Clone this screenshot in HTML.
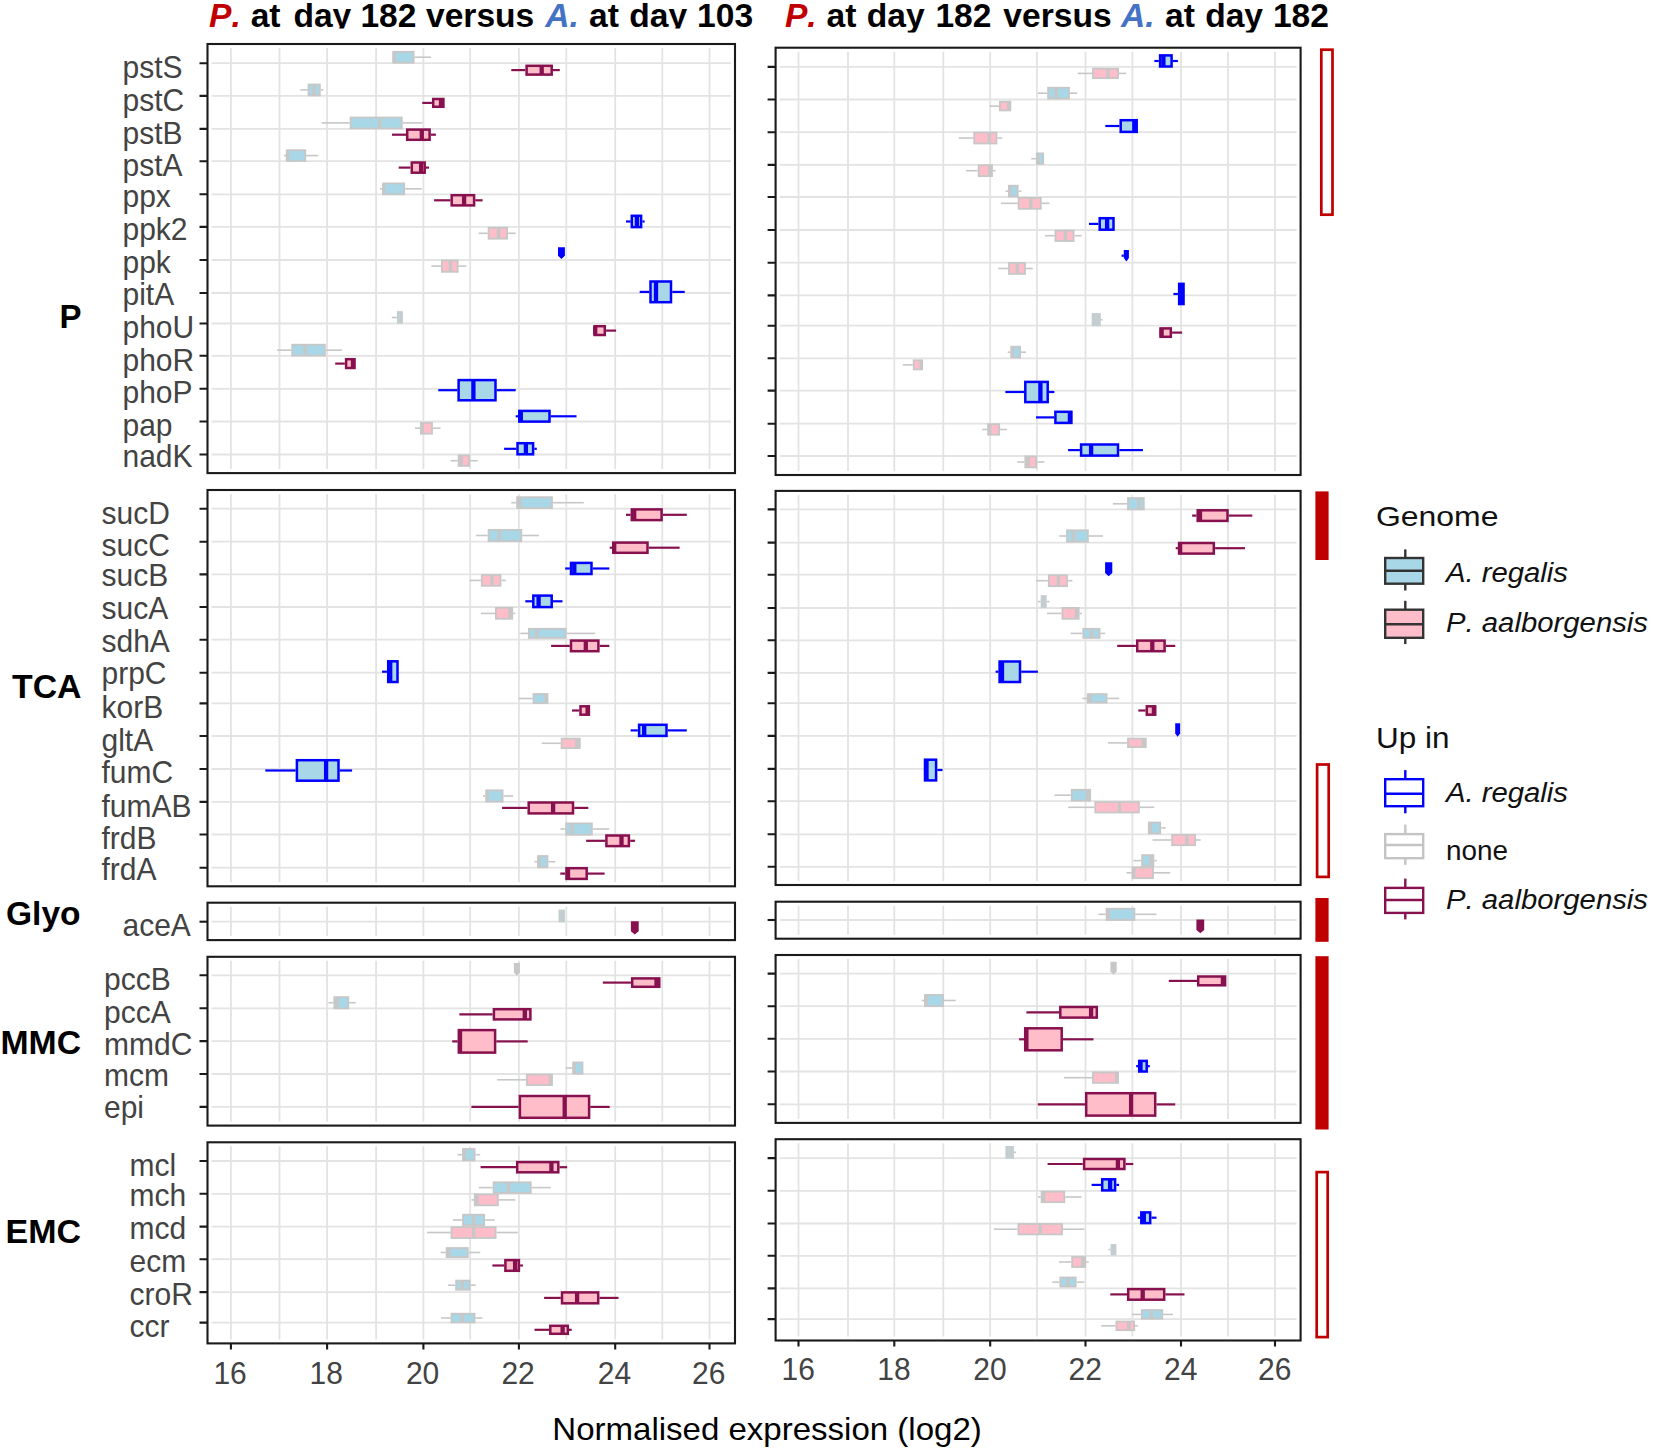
<!DOCTYPE html>
<html lang="en"><head><meta charset="utf-8"><title>Normalised expression boxplots</title><style>html,body{margin:0;padding:0;background:#fff}svg{display:block}</style></head><body>
<svg width="1653" height="1453" viewBox="0 0 1653 1453" font-family="'Liberation Sans', sans-serif" style="font-kerning:none">
<rect width="1653" height="1453" fill="#fff"/>
<defs><clipPath id="cl"><rect x="0" y="0" width="768" height="28.6"/></clipPath><clipPath id="cr"><rect x="768" y="0" width="885" height="32.4"/></clipPath></defs>
<g fill="none" stroke="#e3e3e3" stroke-width="1.8">
<path d="M230.9 48V469.1M279.5 48V469.1M327.1 48V469.1M376.1 48V469.1M423.4 48V469.1M470.2 48V469.1M518.9 48V469.1M566.3 48V469.1M615.2 48V469.1M662.3 48V469.1M709.5 48V469.1M211.5 63.2H731M211.5 95.9H731M211.5 128.9H731M211.5 161.2H731M211.5 194.3H731M211.5 226.9H731M211.5 260H731M211.5 293H731M211.5 323.5H731M211.5 355.8H731M211.5 388.8H731M211.5 421.5H731M211.5 454.5H731"/>
<path d="M230.9 494V882.3M279.5 494V882.3M327.1 494V882.3M376.1 494V882.3M423.4 494V882.3M470.2 494V882.3M518.9 494V882.3M566.3 494V882.3M615.2 494V882.3M662.3 494V882.3M709.5 494V882.3M211.5 508.7H731M211.5 541.7H731M211.5 574.4H731M211.5 607H731M211.5 639.7H731M211.5 672.7H731M211.5 703.4H731M211.5 736H731M211.5 769H731M211.5 801.9H731M211.5 834.5H731M211.5 867.7H731"/>
<path d="M230.9 906.7V936.1M279.5 906.7V936.1M327.1 906.7V936.1M376.1 906.7V936.1M423.4 906.7V936.1M470.2 906.7V936.1M518.9 906.7V936.1M566.3 906.7V936.1M615.2 906.7V936.1M662.3 906.7V936.1M709.5 906.7V936.1M211.5 921.7H731"/>
<path d="M230.9 960.8V1121.6M279.5 960.8V1121.6M327.1 960.8V1121.6M376.1 960.8V1121.6M423.4 960.8V1121.6M470.2 960.8V1121.6M518.9 960.8V1121.6M566.3 960.8V1121.6M615.2 960.8V1121.6M662.3 960.8V1121.6M709.5 960.8V1121.6M211.5 975.3H731M211.5 1008.3H731M211.5 1041.1H731M211.5 1074H731M211.5 1106.9H731"/>
<path d="M230.9 1146.3V1339.4M279.5 1146.3V1339.4M327.1 1146.3V1339.4M376.1 1146.3V1339.4M423.4 1146.3V1339.4M470.2 1146.3V1339.4M518.9 1146.3V1339.4M566.3 1146.3V1339.4M615.2 1146.3V1339.4M662.3 1146.3V1339.4M709.5 1146.3V1339.4M211.5 1161H731M211.5 1193.8H731M211.5 1226.6H731M211.5 1259.2H731M211.5 1292.1H731M211.5 1322.6H731"/>
</g>
<g fill="none" stroke="#e3e3e3" stroke-width="1.8">
<path d="M798.5 51.7V471M848 51.7V471M894.3 51.7V471M943.3 51.7V471M990.2 51.7V471M1036.9 51.7V471M1085.5 51.7V471M1132.4 51.7V471M1181 51.7V471M1228 51.7V471M1275 51.7V471M779.6 66.9H1296.6M779.6 99.5H1296.6M779.6 132.2H1296.6M779.6 164.9H1296.6M779.6 197H1296.6M779.6 230H1296.6M779.6 262.7H1296.6M779.6 295.4H1296.6M779.6 325.7H1296.6M779.6 358.3H1296.6M779.6 390.6H1296.6M779.6 423.7H1296.6M779.6 456H1296.6"/>
<path d="M798.5 494.9V881M848 494.9V881M894.3 494.9V881M943.3 494.9V881M990.2 494.9V881M1036.9 494.9V881M1085.5 494.9V881M1132.4 494.9V881M1181 494.9V881M1228 494.9V881M1275 494.9V881M779.6 509.4H1296.6M779.6 542.6H1296.6M779.6 574.7H1296.6M779.6 608H1296.6M779.6 640.3H1296.6M779.6 672.9H1296.6M779.6 703.2H1296.6M779.6 735.9H1296.6M779.6 768.9H1296.6M779.6 801.2H1296.6M779.6 834.3H1296.6M779.6 866.8H1296.6"/>
<path d="M798.5 905.7V934.7M848 905.7V934.7M894.3 905.7V934.7M943.3 905.7V934.7M990.2 905.7V934.7M1036.9 905.7V934.7M1085.5 905.7V934.7M1132.4 905.7V934.7M1181 905.7V934.7M1228 905.7V934.7M1275 905.7V934.7M779.6 920H1296.6"/>
<path d="M798.5 959V1118.9M848 959V1118.9M894.3 959V1118.9M943.3 959V1118.9M990.2 959V1118.9M1036.9 959V1118.9M1085.5 959V1118.9M1132.4 959V1118.9M1181 959V1118.9M1228 959V1118.9M1275 959V1118.9M779.6 973.6H1296.6M779.6 1006.2H1296.6M779.6 1038.8H1296.6M779.6 1071.5H1296.6M779.6 1104.3H1296.6"/>
<path d="M798.5 1143.2V1336.5M848 1143.2V1336.5M894.3 1143.2V1336.5M943.3 1143.2V1336.5M990.2 1143.2V1336.5M1036.9 1143.2V1336.5M1085.5 1143.2V1336.5M1132.4 1143.2V1336.5M1181 1143.2V1336.5M1228 1143.2V1336.5M1275 1143.2V1336.5M779.6 1158.1H1296.6M779.6 1190.8H1296.6M779.6 1223.5H1296.6M779.6 1255.8H1296.6M779.6 1288.4H1296.6M779.6 1319.1H1296.6"/>
</g>
<g fill="none">
<path d="M414.5 57.2H430.9" stroke="#c7c7c7" stroke-width="1.6"/><rect x="393.3" y="51.8" width="20.3" height="10.9" fill="#a8d8e7" stroke="#c7c7c7" stroke-width="1.8"/><path d="M394.2 51.8V62.7" stroke="#c7c7c7" stroke-width="3.4"/>
<path d="M511.3 70.1H525.3" stroke="#87104e" stroke-width="2.2"/><path d="M552.9 70.1H559.8" stroke="#87104e" stroke-width="2.2"/><rect x="526.6" y="65.8" width="25.1" height="8.8" fill="#ffbdc9" stroke="#87104e" stroke-width="2.5"/><path d="M541.7 65.8V74.5" stroke="#87104e" stroke-width="4.3"/>
<path d="M300.4 89.9H307.6" stroke="#c7c7c7" stroke-width="1.6"/><path d="M320.7 89.9H323.4" stroke="#c7c7c7" stroke-width="1.6"/><rect x="308.5" y="84.5" width="11.3" height="10.9" fill="#a8d8e7" stroke="#c7c7c7" stroke-width="1.8"/><path d="M314 84.5V95.4" stroke="#c7c7c7" stroke-width="3.4"/>
<path d="M422.3 102.9H431.9" stroke="#87104e" stroke-width="2.2"/><rect x="433.2" y="99" width="10.2" height="7.8" fill="#ffbdc9" stroke="#87104e" stroke-width="2.5"/><path d="M441 99V106.8" stroke="#87104e" stroke-width="4.3"/>
<path d="M321.6 122.9H349.7" stroke="#c7c7c7" stroke-width="1.6"/><path d="M402.7 122.9H422.3" stroke="#c7c7c7" stroke-width="1.6"/><rect x="350.6" y="117.5" width="51.2" height="10.9" fill="#a8d8e7" stroke="#c7c7c7" stroke-width="1.8"/><path d="M379.7 117.5V128.4" stroke="#c7c7c7" stroke-width="3.4"/>
<path d="M392 134.7H406" stroke="#87104e" stroke-width="2.2"/><path d="M430.9 134.7H435.9" stroke="#87104e" stroke-width="2.2"/><rect x="407.2" y="129.6" width="22.4" height="10.2" fill="#ffbdc9" stroke="#87104e" stroke-width="2.5"/><path d="M421.8 129.6V139.8" stroke="#87104e" stroke-width="4.3"/>
<path d="M283.8 155.6H286.2" stroke="#c7c7c7" stroke-width="1.6"/><path d="M306.2 155.6H318.3" stroke="#c7c7c7" stroke-width="1.6"/><rect x="287.1" y="150.2" width="18.2" height="10.9" fill="#a8d8e7" stroke="#c7c7c7" stroke-width="1.8"/><path d="M287.5 150.2V161.1" stroke="#c7c7c7" stroke-width="3.4"/>
<path d="M398.7 167.6H410.5" stroke="#87104e" stroke-width="2.2"/><path d="M426 167.6H429" stroke="#87104e" stroke-width="2.2"/><rect x="411.8" y="162.5" width="12.9" height="10.2" fill="#ffbdc9" stroke="#87104e" stroke-width="2.5"/><path d="M421.1 162.5V172.7" stroke="#87104e" stroke-width="4.3"/>
<path d="M380 188.8H382.4" stroke="#c7c7c7" stroke-width="1.6"/><path d="M405.1 188.8H421.8" stroke="#c7c7c7" stroke-width="1.6"/><rect x="383.3" y="183.4" width="20.9" height="10.9" fill="#a8d8e7" stroke="#c7c7c7" stroke-width="1.8"/><path d="M383.7 183.4V194.3" stroke="#c7c7c7" stroke-width="3.4"/>
<path d="M434.1 200.3H450.5" stroke="#87104e" stroke-width="2.2"/><path d="M475.3 200.3H482.6" stroke="#87104e" stroke-width="2.2"/><rect x="451.7" y="195.2" width="22.4" height="10.2" fill="#ffbdc9" stroke="#87104e" stroke-width="2.5"/><path d="M464.1 195.2V205.4" stroke="#87104e" stroke-width="4.3"/>
<path d="M626 221.5H630.6" stroke="#0000ff" stroke-width="2.2"/><path d="M642.4 221.5H644.6" stroke="#0000ff" stroke-width="2.2"/><rect x="631.8" y="215.8" width="9.3" height="11.3" fill="#a8d8e7" stroke="#0000ff" stroke-width="2.5"/><path d="M636.9 215.8V227.1" stroke="#0000ff" stroke-width="4.3"/>
<path d="M478.7 233.3H487.7" stroke="#c7c7c7" stroke-width="1.6"/><path d="M508.1 233.3H515.7" stroke="#c7c7c7" stroke-width="1.6"/><rect x="488.6" y="227.8" width="18.5" height="10.9" fill="#ffbdc9" stroke="#c7c7c7" stroke-width="1.8"/><path d="M498.6 227.8V238.7" stroke="#c7c7c7" stroke-width="3.4"/>
<path d="M558 247.3H564.9V255.8L561.4 259.1L558 255.8Z" fill="#0000ff"/>
<path d="M431.4 266.1H441" stroke="#c7c7c7" stroke-width="1.6"/><path d="M458.6 266.1H466.4" stroke="#c7c7c7" stroke-width="1.6"/><rect x="441.9" y="260.5" width="15.8" height="11.3" fill="#ffbdc9" stroke="#c7c7c7" stroke-width="1.8"/><path d="M450.5 260.5V271.8" stroke="#c7c7c7" stroke-width="3.4"/>
<path d="M639.7 291.9H649.3" stroke="#0000ff" stroke-width="2.2"/><path d="M672.3 291.9H684.7" stroke="#0000ff" stroke-width="2.2"/><rect x="650.5" y="281.5" width="20.5" height="20.7" fill="#a8d8e7" stroke="#0000ff" stroke-width="2.5"/><path d="M656 281.5V302.3" stroke="#0000ff" stroke-width="4.3"/>
<path d="M392 317.5H396.9" stroke="#c7c7c7" stroke-width="1.6"/><rect x="396.9" y="311.1" width="6" height="12.7" fill="#c4cdd0"/>
<path d="M606.1 330.6H616.1" stroke="#87104e" stroke-width="2.2"/><rect x="594.6" y="326.2" width="10.2" height="8.8" fill="#ffbdc9" stroke="#87104e" stroke-width="2.5"/><path d="M595.2 326.2V334.9" stroke="#87104e" stroke-width="4.3"/>
<path d="M277.1 350.2H291.3" stroke="#c7c7c7" stroke-width="1.6"/><path d="M325.8 350.2H342.1" stroke="#c7c7c7" stroke-width="1.6"/><rect x="292.2" y="344.7" width="32.7" height="10.9" fill="#a8d8e7" stroke="#c7c7c7" stroke-width="1.8"/><path d="M304.9 344.7V355.6" stroke="#c7c7c7" stroke-width="3.4"/>
<path d="M335.2 363.6H344.8" stroke="#87104e" stroke-width="2.2"/><rect x="346.1" y="359.2" width="8.4" height="8.8" fill="#ffbdc9" stroke="#87104e" stroke-width="2.5"/><path d="M353 359.2V368" stroke="#87104e" stroke-width="4.3"/>
<path d="M438.3 390.2H457.4" stroke="#0000ff" stroke-width="2.2"/><path d="M496.8 390.2H515.7" stroke="#0000ff" stroke-width="2.2"/><rect x="458.6" y="380.1" width="36.9" height="20.2" fill="#a8d8e7" stroke="#0000ff" stroke-width="2.5"/><path d="M473.4 380.1V400.3" stroke="#0000ff" stroke-width="4.3"/>
<path d="M515.7 416.3H518.1" stroke="#0000ff" stroke-width="2.2"/><path d="M550.7 416.3H576.5" stroke="#0000ff" stroke-width="2.2"/><rect x="519.3" y="410.9" width="30.2" height="10.7" fill="#a8d8e7" stroke="#0000ff" stroke-width="2.5"/><path d="M520.8 410.9V421.7" stroke="#0000ff" stroke-width="4.3"/>
<path d="M415.1 428.2H420" stroke="#c7c7c7" stroke-width="1.6"/><path d="M432.8 428.2H440.5" stroke="#c7c7c7" stroke-width="1.6"/><rect x="420.9" y="422.8" width="11.1" height="10.9" fill="#ffbdc9" stroke="#c7c7c7" stroke-width="1.8"/><path d="M422.3 422.8V433.7" stroke="#c7c7c7" stroke-width="3.4"/>
<path d="M504.1 448.8H516.2" stroke="#0000ff" stroke-width="2.2"/><path d="M534.4 448.8H536.8" stroke="#0000ff" stroke-width="2.2"/><rect x="517.5" y="443.2" width="15.6" height="11.1" fill="#a8d8e7" stroke="#0000ff" stroke-width="2.5"/><path d="M525.9 443.2V454.4" stroke="#0000ff" stroke-width="4.3"/>
<path d="M450.5 460.7H457.7" stroke="#c7c7c7" stroke-width="1.6"/><path d="M470.1 460.7H477.7" stroke="#c7c7c7" stroke-width="1.6"/><rect x="458.6" y="455.4" width="10.5" height="10.5" fill="#ffbdc9" stroke="#c7c7c7" stroke-width="1.8"/><path d="M461.3 455.4V466" stroke="#c7c7c7" stroke-width="3.4"/>
<path d="M511.3 502.7H516.2" stroke="#c7c7c7" stroke-width="1.6"/><path d="M552.9 502.7H583.8" stroke="#c7c7c7" stroke-width="1.6"/><rect x="517.1" y="497.2" width="34.9" height="10.9" fill="#a8d8e7" stroke="#c7c7c7" stroke-width="1.8"/><path d="M519.9 497.2V508.1" stroke="#c7c7c7" stroke-width="3.4"/>
<path d="M626 514.8H630.6" stroke="#87104e" stroke-width="2.2"/><path d="M662.9 514.8H686.8" stroke="#87104e" stroke-width="2.2"/><rect x="631.8" y="509.4" width="29.8" height="10.7" fill="#ffbdc9" stroke="#87104e" stroke-width="2.5"/><path d="M634.2 509.4V520.1" stroke="#87104e" stroke-width="4.3"/>
<path d="M476 535.5H487.7" stroke="#c7c7c7" stroke-width="1.6"/><path d="M522.2 535.5H538.9" stroke="#c7c7c7" stroke-width="1.6"/><rect x="488.6" y="529.9" width="32.7" height="11.3" fill="#a8d8e7" stroke="#c7c7c7" stroke-width="1.8"/><path d="M499.4 529.9V541.2" stroke="#c7c7c7" stroke-width="3.4"/>
<path d="M609.7 547.7H612.1" stroke="#87104e" stroke-width="2.2"/><path d="M648.7 547.7H679.6" stroke="#87104e" stroke-width="2.2"/><rect x="613.3" y="542.6" width="34.2" height="10.2" fill="#ffbdc9" stroke="#87104e" stroke-width="2.5"/><path d="M614.2 542.6V552.8" stroke="#87104e" stroke-width="4.3"/>
<path d="M565.2 568.5H569.8" stroke="#0000ff" stroke-width="2.2"/><path d="M592.8 568.5H609.3" stroke="#0000ff" stroke-width="2.2"/><rect x="571" y="562.9" width="20.5" height="11.1" fill="#a8d8e7" stroke="#0000ff" stroke-width="2.5"/><path d="M574.3 562.9V574" stroke="#0000ff" stroke-width="4.3"/>
<path d="M469.6 580.4H480.9" stroke="#c7c7c7" stroke-width="1.6"/><path d="M501.4 580.4H505.9" stroke="#c7c7c7" stroke-width="1.6"/><rect x="481.8" y="574.9" width="18.7" height="10.9" fill="#ffbdc9" stroke="#c7c7c7" stroke-width="1.8"/><path d="M492.1 574.9V585.8" stroke="#c7c7c7" stroke-width="3.4"/>
<path d="M525.3 601.3H532" stroke="#0000ff" stroke-width="2.2"/><path d="M552.9 601.3H562.5" stroke="#0000ff" stroke-width="2.2"/><rect x="533.3" y="595.6" width="18.4" height="11.5" fill="#a8d8e7" stroke="#0000ff" stroke-width="2.5"/><path d="M538.6 595.6V607.1" stroke="#0000ff" stroke-width="4.3"/>
<path d="M480.9 613.4H495" stroke="#c7c7c7" stroke-width="1.6"/><path d="M513.2 613.4H515.3" stroke="#c7c7c7" stroke-width="1.6"/><rect x="495.9" y="607.9" width="16.3" height="10.9" fill="#ffbdc9" stroke="#c7c7c7" stroke-width="1.8"/><path d="M509.9 607.9V618.8" stroke="#c7c7c7" stroke-width="3.4"/>
<path d="M520.4 633.4H528" stroke="#c7c7c7" stroke-width="1.6"/><path d="M566.5 633.4H595.2" stroke="#c7c7c7" stroke-width="1.6"/><rect x="528.9" y="628.8" width="36.7" height="9.1" fill="#a8d8e7" stroke="#c7c7c7" stroke-width="1.8"/><path d="M536.8 628.8V637.9" stroke="#c7c7c7" stroke-width="3.4"/>
<path d="M551.1 645.9H569.8" stroke="#87104e" stroke-width="2.2"/><path d="M599.7 645.9H609.3" stroke="#87104e" stroke-width="2.2"/><rect x="571" y="640.6" width="27.4" height="10.6" fill="#ffbdc9" stroke="#87104e" stroke-width="2.5"/><path d="M585.8 640.6V651.2" stroke="#87104e" stroke-width="4.3"/>
<path d="M382 671.7H386.9" stroke="#0000ff" stroke-width="2.2"/><rect x="388.2" y="661.3" width="9.3" height="20.7" fill="#a8d8e7" stroke="#0000ff" stroke-width="2.5"/><path d="M390.2 661.3V682" stroke="#0000ff" stroke-width="4.3"/>
<path d="M518.6 698.5H532.6" stroke="#c7c7c7" stroke-width="1.6"/><rect x="533.5" y="694" width="14" height="9.1" fill="#a8d8e7" stroke="#c7c7c7" stroke-width="1.8"/><path d="M546.2 694V703.1" stroke="#c7c7c7" stroke-width="3.4"/>
<path d="M572 710.5H579.2" stroke="#87104e" stroke-width="2.2"/><rect x="580.5" y="706.3" width="8.4" height="8.4" fill="#ffbdc9" stroke="#87104e" stroke-width="2.5"/><path d="M587.6 706.3V714.7" stroke="#87104e" stroke-width="4.3"/>
<path d="M630.6 730.4H637.8" stroke="#0000ff" stroke-width="2.2"/><path d="M667.8 730.4H686.8" stroke="#0000ff" stroke-width="2.2"/><rect x="639.1" y="724.8" width="27.4" height="11.1" fill="#a8d8e7" stroke="#0000ff" stroke-width="2.5"/><path d="M644.2 724.8V735.9" stroke="#0000ff" stroke-width="4.3"/>
<path d="M541.7 743.3H560.7" stroke="#c7c7c7" stroke-width="1.6"/><rect x="561.6" y="738.6" width="18.2" height="9.5" fill="#ffbdc9" stroke="#c7c7c7" stroke-width="1.8"/><path d="M577 738.6V748.1" stroke="#c7c7c7" stroke-width="3.4"/>
<path d="M265.3 770.5H295.6" stroke="#0000ff" stroke-width="2.2"/><path d="M339.7 770.5H352.1" stroke="#0000ff" stroke-width="2.2"/><rect x="296.9" y="760.2" width="41.6" height="20.5" fill="#a8d8e7" stroke="#0000ff" stroke-width="2.5"/><path d="M326.1 760.2V780.7" stroke="#0000ff" stroke-width="4.3"/>
<path d="M483 796H485.4" stroke="#c7c7c7" stroke-width="1.6"/><path d="M503.5 796H513.2" stroke="#c7c7c7" stroke-width="1.6"/><rect x="486.3" y="790.3" width="16.3" height="11.3" fill="#a8d8e7" stroke="#c7c7c7" stroke-width="1.8"/><path d="M487.2 790.3V801.6" stroke="#c7c7c7" stroke-width="3.4"/>
<path d="M502.1 807.9H527.5" stroke="#87104e" stroke-width="2.2"/><path d="M574.3 807.9H588.3" stroke="#87104e" stroke-width="2.2"/><rect x="528.7" y="802.5" width="44.3" height="10.9" fill="#ffbdc9" stroke="#87104e" stroke-width="2.5"/><path d="M553.1 802.5V813.4" stroke="#87104e" stroke-width="4.3"/>
<path d="M560.3 829H565.2" stroke="#c7c7c7" stroke-width="1.6"/><path d="M592.8 829H609.3" stroke="#c7c7c7" stroke-width="1.6"/><rect x="566.1" y="823.4" width="25.8" height="11.3" fill="#a8d8e7" stroke="#c7c7c7" stroke-width="1.8"/><path d="M572 823.4V834.6" stroke="#c7c7c7" stroke-width="3.4"/>
<path d="M586.1 840.8H605.2" stroke="#87104e" stroke-width="2.2"/><path d="M630.2 840.8H635.1" stroke="#87104e" stroke-width="2.2"/><rect x="606.4" y="835.5" width="22.5" height="10.6" fill="#ffbdc9" stroke="#87104e" stroke-width="2.5"/><path d="M621.5 835.5V846.1" stroke="#87104e" stroke-width="4.3"/>
<path d="M534.4 861.7H537.1" stroke="#c7c7c7" stroke-width="1.6"/><path d="M548.4 861.7H555.3" stroke="#c7c7c7" stroke-width="1.6"/><rect x="538" y="856" width="9.5" height="11.3" fill="#a8d8e7" stroke="#c7c7c7" stroke-width="1.8"/><path d="M538.9 856V867.3" stroke="#c7c7c7" stroke-width="3.4"/>
<path d="M560.3 873.6H565.2" stroke="#87104e" stroke-width="2.2"/><path d="M587.9 873.6H604.6" stroke="#87104e" stroke-width="2.2"/><rect x="566.5" y="868.2" width="20.2" height="10.7" fill="#ffbdc9" stroke="#87104e" stroke-width="2.5"/><path d="M568 868.2V878.9" stroke="#87104e" stroke-width="4.3"/>
<rect x="558.5" y="909.6" width="6.4" height="12.7" fill="#c4cdd0"/>
<path d="M630.9 921.2H638.7V931.2L634.8 934.5L630.9 931.2Z" fill="#87104e"/>
<path d="M513.9 963H519.9V972.4L516.9 975.7L513.9 972.4Z" fill="#c7c7c7"/>
<path d="M602.8 982.6H630.9" stroke="#87104e" stroke-width="2.2"/><rect x="632.2" y="978.4" width="27.1" height="8.4" fill="#ffbdc9" stroke="#87104e" stroke-width="2.5"/><path d="M656.5 978.4V986.8" stroke="#87104e" stroke-width="4.3"/>
<path d="M328.5 1002.7H333.4" stroke="#c7c7c7" stroke-width="1.6"/><path d="M349.2 1002.7H355.7" stroke="#c7c7c7" stroke-width="1.6"/><rect x="334.3" y="997.1" width="14" height="11.3" fill="#a8d8e7" stroke="#c7c7c7" stroke-width="1.8"/><path d="M337 997.1V1008.3" stroke="#c7c7c7" stroke-width="3.4"/>
<path d="M459.4 1014.3H492.6" stroke="#87104e" stroke-width="2.2"/><rect x="493.9" y="1009.2" width="36.5" height="10.2" fill="#ffbdc9" stroke="#87104e" stroke-width="2.5"/><path d="M524.8 1009.2V1019.4" stroke="#87104e" stroke-width="4.3"/>
<path d="M452.2 1041.4H457.6" stroke="#87104e" stroke-width="2.2"/><path d="M496.3 1041.4H527.7" stroke="#87104e" stroke-width="2.2"/><rect x="458.9" y="1030.1" width="36.2" height="22.5" fill="#ffbdc9" stroke="#87104e" stroke-width="2.5"/><path d="M460 1030.1V1052.6" stroke="#87104e" stroke-width="4.3"/>
<path d="M565.8 1068H572.5" stroke="#c7c7c7" stroke-width="1.6"/><rect x="573.4" y="1062.4" width="9.1" height="11.3" fill="#a8d8e7" stroke="#c7c7c7" stroke-width="1.8"/><path d="M574.1 1062.4V1073.7" stroke="#c7c7c7" stroke-width="3.4"/>
<path d="M497.2 1079.8H525.9" stroke="#c7c7c7" stroke-width="1.6"/><rect x="526.8" y="1074.6" width="25.2" height="10.5" fill="#ffbdc9" stroke="#c7c7c7" stroke-width="1.8"/><path d="M550.4 1074.6V1085.1" stroke="#c7c7c7" stroke-width="3.4"/>
<path d="M471.4 1106.9H518.6" stroke="#87104e" stroke-width="2.2"/><path d="M590.3 1106.9H609.7" stroke="#87104e" stroke-width="2.2"/><rect x="519.9" y="1096" width="69.2" height="21.8" fill="#ffbdc9" stroke="#87104e" stroke-width="2.5"/><path d="M564.7 1096V1117.8" stroke="#87104e" stroke-width="4.3"/>
<path d="M457.4 1154.7H462.1" stroke="#c7c7c7" stroke-width="1.6"/><path d="M475.5 1154.7H480.2" stroke="#c7c7c7" stroke-width="1.6"/><rect x="463" y="1149" width="11.6" height="11.3" fill="#a8d8e7" stroke="#c7c7c7" stroke-width="1.8"/><path d="M464.2 1149V1160.3" stroke="#c7c7c7" stroke-width="3.4"/>
<path d="M480.6 1167.2H516" stroke="#87104e" stroke-width="2.2"/><path d="M559.5 1167.2H567.2" stroke="#87104e" stroke-width="2.2"/><rect x="517.2" y="1162.1" width="41.1" height="10.2" fill="#ffbdc9" stroke="#87104e" stroke-width="2.5"/><path d="M551.4 1162.1V1172.3" stroke="#87104e" stroke-width="4.3"/>
<path d="M478.8 1187.6H492.7" stroke="#c7c7c7" stroke-width="1.6"/><path d="M531.8 1187.6H550.8" stroke="#c7c7c7" stroke-width="1.6"/><rect x="493.6" y="1182.3" width="37.2" height="10.7" fill="#a8d8e7" stroke="#c7c7c7" stroke-width="1.8"/><path d="M508.7 1182.3V1193" stroke="#c7c7c7" stroke-width="3.4"/>
<path d="M471.5 1199.9H473.9" stroke="#c7c7c7" stroke-width="1.6"/><path d="M498.7 1199.9H515.4" stroke="#c7c7c7" stroke-width="1.6"/><rect x="474.8" y="1194.4" width="23.1" height="10.9" fill="#ffbdc9" stroke="#c7c7c7" stroke-width="1.8"/><path d="M477 1194.4V1205.3" stroke="#c7c7c7" stroke-width="3.4"/>
<path d="M452.8 1220H462.1" stroke="#c7c7c7" stroke-width="1.6"/><path d="M485.1 1220H494.6" stroke="#c7c7c7" stroke-width="1.6"/><rect x="463" y="1214.7" width="21.2" height="10.5" fill="#a8d8e7" stroke="#c7c7c7" stroke-width="1.8"/><path d="M473.7 1214.7V1225.3" stroke="#c7c7c7" stroke-width="3.4"/>
<path d="M427 1232.5H450.6" stroke="#c7c7c7" stroke-width="1.6"/><path d="M496.6 1232.5H517.8" stroke="#c7c7c7" stroke-width="1.6"/><rect x="451.5" y="1227.1" width="44.1" height="10.9" fill="#ffbdc9" stroke="#c7c7c7" stroke-width="1.8"/><path d="M473.7 1227.1V1238" stroke="#c7c7c7" stroke-width="3.4"/>
<path d="M440.7 1252.5H445.7" stroke="#c7c7c7" stroke-width="1.6"/><path d="M468.8 1252.5H480.2" stroke="#c7c7c7" stroke-width="1.6"/><rect x="446.6" y="1248" width="21.2" height="9.1" fill="#a8d8e7" stroke="#c7c7c7" stroke-width="1.8"/><path d="M448.8 1248V1257" stroke="#c7c7c7" stroke-width="3.4"/>
<path d="M492.4 1265.5H504.2" stroke="#87104e" stroke-width="2.2"/><path d="M520.1 1265.5H522.9" stroke="#87104e" stroke-width="2.2"/><rect x="505.4" y="1260.1" width="13.5" height="10.7" fill="#ffbdc9" stroke="#87104e" stroke-width="2.5"/><path d="M515.1 1260.1V1270.9" stroke="#87104e" stroke-width="4.3"/>
<path d="M447.9 1285.2H455.2" stroke="#c7c7c7" stroke-width="1.6"/><path d="M470.6 1285.2H475.7" stroke="#c7c7c7" stroke-width="1.6"/><rect x="456.1" y="1280.6" width="13.6" height="9.1" fill="#a8d8e7" stroke="#c7c7c7" stroke-width="1.8"/><path d="M462.4 1280.6V1289.7" stroke="#c7c7c7" stroke-width="3.4"/>
<path d="M544.1 1297.9H560.8" stroke="#87104e" stroke-width="2.2"/><path d="M599.5 1297.9H618.5" stroke="#87104e" stroke-width="2.2"/><rect x="562" y="1292.4" width="36.2" height="10.9" fill="#ffbdc9" stroke="#87104e" stroke-width="2.5"/><path d="M577.1 1292.4V1303.3" stroke="#87104e" stroke-width="4.3"/>
<path d="M441 1318H450.6" stroke="#c7c7c7" stroke-width="1.6"/><path d="M475.5 1318H482.4" stroke="#c7c7c7" stroke-width="1.6"/><rect x="451.5" y="1313.7" width="23.1" height="8.7" fill="#a8d8e7" stroke="#c7c7c7" stroke-width="1.8"/><path d="M462.4 1313.7V1322.4" stroke="#c7c7c7" stroke-width="3.4"/>
<path d="M534.5 1329.8H549" stroke="#87104e" stroke-width="2.2"/><path d="M569 1329.8H571.7" stroke="#87104e" stroke-width="2.2"/><rect x="550.3" y="1325.8" width="17.5" height="8" fill="#ffbdc9" stroke="#87104e" stroke-width="2.5"/><path d="M562.6 1325.8V1333.8" stroke="#87104e" stroke-width="4.3"/>
<path d="M1154.3 61H1158.8" stroke="#0000ff" stroke-width="2.2"/><path d="M1172.8 61H1177.9" stroke="#0000ff" stroke-width="2.2"/><rect x="1160.1" y="55.4" width="11.5" height="11.1" fill="#a8d8e7" stroke="#0000ff" stroke-width="2.5"/><path d="M1163.4 55.4V66.5" stroke="#0000ff" stroke-width="4.3"/>
<path d="M1077.7 73.4H1092.1" stroke="#c7c7c7" stroke-width="1.6"/><path d="M1118.9 73.4H1126.2" stroke="#c7c7c7" stroke-width="1.6"/><rect x="1093" y="68.7" width="25.1" height="9.5" fill="#ffbdc9" stroke="#c7c7c7" stroke-width="1.8"/><path d="M1108 68.7V78.1" stroke="#c7c7c7" stroke-width="3.4"/>
<path d="M1037.6 93.2H1047.2" stroke="#c7c7c7" stroke-width="1.6"/><path d="M1069.9 93.2H1077.2" stroke="#c7c7c7" stroke-width="1.6"/><rect x="1048.1" y="87.7" width="20.9" height="10.9" fill="#a8d8e7" stroke="#c7c7c7" stroke-width="1.8"/><path d="M1056.3 87.7V98.6" stroke="#c7c7c7" stroke-width="3.4"/>
<path d="M989.6 106.1H999" stroke="#c7c7c7" stroke-width="1.6"/><rect x="999.9" y="101.7" width="10.5" height="8.7" fill="#ffbdc9" stroke="#c7c7c7" stroke-width="1.8"/><path d="M1008.7 101.7V110.4" stroke="#c7c7c7" stroke-width="3.4"/>
<path d="M1105.3 126H1119.5" stroke="#0000ff" stroke-width="2.2"/><rect x="1120.7" y="120.2" width="16" height="11.7" fill="#a8d8e7" stroke="#0000ff" stroke-width="2.5"/><path d="M1134.3 120.2V131.9" stroke="#0000ff" stroke-width="4.3"/>
<path d="M958.7 138H973.3" stroke="#c7c7c7" stroke-width="1.6"/><path d="M997.4 138H1002.3" stroke="#c7c7c7" stroke-width="1.6"/><rect x="974.2" y="132.6" width="22.3" height="10.9" fill="#ffbdc9" stroke="#c7c7c7" stroke-width="1.8"/><path d="M989.2 132.6V143.5" stroke="#c7c7c7" stroke-width="3.4"/>
<path d="M1031.3 158.7H1035.9" stroke="#c7c7c7" stroke-width="1.6"/><rect x="1036.8" y="153.4" width="6.4" height="10.5" fill="#a8d8e7" stroke="#c7c7c7" stroke-width="1.8"/><path d="M1037.7 153.4V164" stroke="#c7c7c7" stroke-width="3.4"/>
<path d="M966 170.7H977.8" stroke="#c7c7c7" stroke-width="1.6"/><path d="M992.9 170.7H995.6" stroke="#c7c7c7" stroke-width="1.6"/><rect x="978.7" y="165.2" width="13.3" height="10.9" fill="#ffbdc9" stroke="#c7c7c7" stroke-width="1.8"/><path d="M989.6 165.2V176.1" stroke="#c7c7c7" stroke-width="3.4"/>
<path d="M1005.6 191.2H1008.1" stroke="#c7c7c7" stroke-width="1.6"/><path d="M1018.6 191.2H1021.4" stroke="#c7c7c7" stroke-width="1.6"/><rect x="1009" y="185.7" width="8.7" height="10.9" fill="#a8d8e7" stroke="#c7c7c7" stroke-width="1.8"/><path d="M1009.9 185.7V196.6" stroke="#c7c7c7" stroke-width="3.4"/>
<path d="M1000.9 203.3H1017.7" stroke="#c7c7c7" stroke-width="1.6"/><path d="M1041.7 203.3H1049.5" stroke="#c7c7c7" stroke-width="1.6"/><rect x="1018.6" y="197.9" width="22.2" height="10.9" fill="#ffbdc9" stroke="#c7c7c7" stroke-width="1.8"/><path d="M1030.8 197.9V208.8" stroke="#c7c7c7" stroke-width="3.4"/>
<path d="M1089 223.9H1098.4" stroke="#0000ff" stroke-width="2.2"/><rect x="1099.7" y="218.2" width="13.8" height="11.5" fill="#a8d8e7" stroke="#0000ff" stroke-width="2.5"/><path d="M1107.1 218.2V229.7" stroke="#0000ff" stroke-width="4.3"/>
<path d="M1044.9 235.7H1054.5" stroke="#c7c7c7" stroke-width="1.6"/><path d="M1074.4 235.7H1081.7" stroke="#c7c7c7" stroke-width="1.6"/><rect x="1055.4" y="230.6" width="18.2" height="10.4" fill="#ffbdc9" stroke="#c7c7c7" stroke-width="1.8"/><path d="M1065.4 230.6V240.9" stroke="#c7c7c7" stroke-width="3.4"/>
<path d="M1121.6 255.7H1123.8" stroke="#0000ff" stroke-width="2.2"/><path d="M1123.8 250H1128.9V258.1L1126.4 261.4L1123.8 258.1Z" fill="#0000ff"/>
<path d="M998.3 268.5H1008.1" stroke="#c7c7c7" stroke-width="1.6"/><path d="M1025.9 268.5H1032.8" stroke="#c7c7c7" stroke-width="1.6"/><rect x="1009" y="263" width="16" height="10.9" fill="#ffbdc9" stroke="#c7c7c7" stroke-width="1.8"/><path d="M1017.2 263V273.9" stroke="#c7c7c7" stroke-width="3.4"/>
<path d="M1173.4 294H1177.9" stroke="#0000ff" stroke-width="2.2"/><rect x="1177.9" y="282.6" width="6.9" height="22.7" fill="#0000ff"/>
<path d="M1100.8 319.7H1102.6" stroke="#c7c7c7" stroke-width="1.6"/><rect x="1091.7" y="313.1" width="9.1" height="13.1" fill="#c4cdd0"/>
<path d="M1172.1 332.6H1182.1" stroke="#87104e" stroke-width="2.2"/><rect x="1160.6" y="328.4" width="10.2" height="8.4" fill="#ffbdc9" stroke="#87104e" stroke-width="2.5"/><path d="M1161.6 328.4V336.8" stroke="#87104e" stroke-width="4.3"/>
<path d="M1007.7 352.2H1010.5" stroke="#c7c7c7" stroke-width="1.6"/><path d="M1021 352.2H1025.9" stroke="#c7c7c7" stroke-width="1.6"/><rect x="1011.4" y="346.7" width="8.7" height="10.9" fill="#a8d8e7" stroke="#c7c7c7" stroke-width="1.8"/><path d="M1012.3 346.7V357.6" stroke="#c7c7c7" stroke-width="3.4"/>
<path d="M902.8 364.9H912.8" stroke="#c7c7c7" stroke-width="1.6"/><rect x="913.7" y="360.3" width="8.4" height="9.1" fill="#ffbdc9" stroke="#c7c7c7" stroke-width="1.8"/><path d="M921.2 360.3V369.4" stroke="#c7c7c7" stroke-width="3.4"/>
<path d="M1005.4 392H1024.1" stroke="#0000ff" stroke-width="2.2"/><path d="M1048.9 392H1054.4" stroke="#0000ff" stroke-width="2.2"/><rect x="1025.3" y="381.9" width="22.4" height="20.2" fill="#a8d8e7" stroke="#0000ff" stroke-width="2.5"/><path d="M1040.4 381.9V402.1" stroke="#0000ff" stroke-width="4.3"/>
<path d="M1036 417.4H1054.1" stroke="#0000ff" stroke-width="2.2"/><rect x="1055.4" y="411.8" width="16" height="11.1" fill="#a8d8e7" stroke="#0000ff" stroke-width="2.5"/><path d="M1069.9 411.8V423" stroke="#0000ff" stroke-width="4.3"/>
<path d="M982.3 429.5H987.2" stroke="#c7c7c7" stroke-width="1.6"/><path d="M1000.1 429.5H1006.8" stroke="#c7c7c7" stroke-width="1.6"/><rect x="988.1" y="424.2" width="11.1" height="10.5" fill="#ffbdc9" stroke="#c7c7c7" stroke-width="1.8"/><path d="M989.6 424.2V434.7" stroke="#c7c7c7" stroke-width="3.4"/>
<path d="M1068.1 450.1H1079.9" stroke="#0000ff" stroke-width="2.2"/><path d="M1119.3 450.1H1142.9" stroke="#0000ff" stroke-width="2.2"/><rect x="1081.1" y="444.5" width="36.9" height="11.1" fill="#a8d8e7" stroke="#0000ff" stroke-width="2.5"/><path d="M1091.1 444.5V455.6" stroke="#0000ff" stroke-width="4.3"/>
<path d="M1017.2 462H1024.4" stroke="#c7c7c7" stroke-width="1.6"/><path d="M1037.2 462H1044.4" stroke="#c7c7c7" stroke-width="1.6"/><rect x="1025.3" y="456.5" width="10.9" height="10.9" fill="#ffbdc9" stroke="#c7c7c7" stroke-width="1.8"/><path d="M1028.1 456.5V467.4" stroke="#c7c7c7" stroke-width="3.4"/>
<path d="M1112.9 503.8H1127.1" stroke="#c7c7c7" stroke-width="1.6"/><rect x="1128" y="498.1" width="15.8" height="11.3" fill="#a8d8e7" stroke="#c7c7c7" stroke-width="1.8"/><path d="M1138.9 498.1V509.4" stroke="#c7c7c7" stroke-width="3.4"/>
<path d="M1192.1 515.6H1196.4" stroke="#87104e" stroke-width="2.2"/><path d="M1228.7 515.6H1252.3" stroke="#87104e" stroke-width="2.2"/><rect x="1197.7" y="510.3" width="29.8" height="10.6" fill="#ffbdc9" stroke="#87104e" stroke-width="2.5"/><path d="M1200 510.3V520.9" stroke="#87104e" stroke-width="4.3"/>
<path d="M1059.2 536H1066.1" stroke="#c7c7c7" stroke-width="1.6"/><path d="M1088.7 536H1102.9" stroke="#c7c7c7" stroke-width="1.6"/><rect x="1067" y="530.3" width="20.9" height="11.4" fill="#a8d8e7" stroke="#c7c7c7" stroke-width="1.8"/><path d="M1073.3 530.3V541.7" stroke="#c7c7c7" stroke-width="3.4"/>
<path d="M1175.7 548.2H1177.9" stroke="#87104e" stroke-width="2.2"/><path d="M1215.1 548.2H1245" stroke="#87104e" stroke-width="2.2"/><rect x="1179.1" y="543" width="34.7" height="10.6" fill="#ffbdc9" stroke="#87104e" stroke-width="2.5"/><path d="M1180.1 543V553.5" stroke="#87104e" stroke-width="4.3"/>
<path d="M1105.1 562.2H1112.3V572.9L1108.7 576.2L1105.1 572.9Z" fill="#0000ff"/>
<path d="M1036.1 580.7H1047.9" stroke="#c7c7c7" stroke-width="1.6"/><path d="M1067.9 580.7H1072.4" stroke="#c7c7c7" stroke-width="1.6"/><rect x="1048.8" y="575.3" width="18.2" height="10.9" fill="#ffbdc9" stroke="#c7c7c7" stroke-width="1.8"/><path d="M1058.4 575.3V586.2" stroke="#c7c7c7" stroke-width="3.4"/>
<path d="M1037.9 601.6H1040.7" stroke="#c7c7c7" stroke-width="1.6"/><path d="M1046.6 601.6H1049.4" stroke="#c7c7c7" stroke-width="1.6"/><rect x="1040.7" y="595.2" width="6" height="12.7" fill="#c4cdd0"/>
<path d="M1047 613.4H1061.5" stroke="#c7c7c7" stroke-width="1.6"/><path d="M1079.7 613.4H1082" stroke="#c7c7c7" stroke-width="1.6"/><rect x="1062.4" y="607.9" width="16.3" height="10.9" fill="#ffbdc9" stroke="#c7c7c7" stroke-width="1.8"/><path d="M1076.4 607.9V618.8" stroke="#c7c7c7" stroke-width="3.4"/>
<path d="M1070.6 633.4H1082.4" stroke="#c7c7c7" stroke-width="1.6"/><path d="M1100.5 633.4H1105.1" stroke="#c7c7c7" stroke-width="1.6"/><rect x="1083.3" y="628.8" width="16.3" height="9.1" fill="#a8d8e7" stroke="#c7c7c7" stroke-width="1.8"/><path d="M1091.5 628.8V637.9" stroke="#c7c7c7" stroke-width="3.4"/>
<path d="M1117.2 645.9H1135.9" stroke="#87104e" stroke-width="2.2"/><path d="M1165.9 645.9H1175.3" stroke="#87104e" stroke-width="2.2"/><rect x="1137.2" y="640.6" width="27.4" height="10.6" fill="#ffbdc9" stroke="#87104e" stroke-width="2.5"/><path d="M1152.3 640.6V651.2" stroke="#87104e" stroke-width="4.3"/>
<path d="M995.6 671.7H998.4" stroke="#0000ff" stroke-width="2.2"/><path d="M1021.2 671.7H1037.9" stroke="#0000ff" stroke-width="2.2"/><rect x="999.6" y="661.5" width="20.4" height="20.5" fill="#a8d8e7" stroke="#0000ff" stroke-width="2.5"/><path d="M1002 661.5V682" stroke="#0000ff" stroke-width="4.3"/>
<path d="M1082.3 698.4H1086.8" stroke="#c7c7c7" stroke-width="1.6"/><path d="M1107.5 698.4H1119.3" stroke="#c7c7c7" stroke-width="1.6"/><rect x="1087.7" y="694.1" width="18.9" height="8.5" fill="#a8d8e7" stroke="#c7c7c7" stroke-width="1.8"/><path d="M1090.2 694.1V702.7" stroke="#c7c7c7" stroke-width="3.4"/>
<path d="M1138.3 710.5H1145.6" stroke="#87104e" stroke-width="2.2"/><rect x="1146.8" y="706.3" width="8.4" height="8.4" fill="#ffbdc9" stroke="#87104e" stroke-width="2.5"/><path d="M1153.9 706.3V714.7" stroke="#87104e" stroke-width="4.3"/>
<path d="M1175.2 723.2H1180.1V733.5L1177.6 736.8L1175.2 733.5Z" fill="#0000ff"/>
<path d="M1108 742.9H1127.1" stroke="#c7c7c7" stroke-width="1.6"/><rect x="1128" y="738.6" width="17.8" height="8.5" fill="#ffbdc9" stroke="#c7c7c7" stroke-width="1.8"/><path d="M1143.4 738.6V747.2" stroke="#c7c7c7" stroke-width="3.4"/>
<path d="M937.4 770H942.5" stroke="#0000ff" stroke-width="2.2"/><rect x="925" y="759.7" width="11.1" height="20.7" fill="#a8d8e7" stroke="#0000ff" stroke-width="2.5"/><path d="M926.5 759.7V780.4" stroke="#0000ff" stroke-width="4.3"/>
<path d="M1054.5 795.2H1070.8" stroke="#c7c7c7" stroke-width="1.6"/><rect x="1071.7" y="789.8" width="18.5" height="10.9" fill="#a8d8e7" stroke="#c7c7c7" stroke-width="1.8"/><path d="M1087.5 789.8V800.7" stroke="#c7c7c7" stroke-width="3.4"/>
<path d="M1068.1 807.3H1094.4" stroke="#c7c7c7" stroke-width="1.6"/><path d="M1139.8 807.3H1154.3" stroke="#c7c7c7" stroke-width="1.6"/><rect x="1095.3" y="802.1" width="43.6" height="10.4" fill="#ffbdc9" stroke="#c7c7c7" stroke-width="1.8"/><path d="M1119.5 802.1V812.5" stroke="#c7c7c7" stroke-width="3.4"/>
<path d="M1161.2 827.9H1165.7" stroke="#c7c7c7" stroke-width="1.6"/><rect x="1148.8" y="822.5" width="11.4" height="10.9" fill="#a8d8e7" stroke="#c7c7c7" stroke-width="1.8"/><path d="M1150.1 822.5V833.4" stroke="#c7c7c7" stroke-width="3.4"/>
<path d="M1152.5 840H1171.2" stroke="#c7c7c7" stroke-width="1.6"/><path d="M1196 840H1200.6" stroke="#c7c7c7" stroke-width="1.6"/><rect x="1172.1" y="834.8" width="23.1" height="10.4" fill="#ffbdc9" stroke="#c7c7c7" stroke-width="1.8"/><path d="M1187 834.8V845.2" stroke="#c7c7c7" stroke-width="3.4"/>
<path d="M1133.4 860.6H1141.2" stroke="#c7c7c7" stroke-width="1.6"/><path d="M1154.3 860.6H1156.7" stroke="#c7c7c7" stroke-width="1.6"/><rect x="1142.1" y="855.1" width="11.3" height="10.9" fill="#a8d8e7" stroke="#c7c7c7" stroke-width="1.8"/><path d="M1151 855.1V866" stroke="#c7c7c7" stroke-width="3.4"/>
<path d="M1126.5 872.8H1131.6" stroke="#c7c7c7" stroke-width="1.6"/><path d="M1153.9 872.8H1170.3" stroke="#c7c7c7" stroke-width="1.6"/><rect x="1132.5" y="867.5" width="20.5" height="10.7" fill="#ffbdc9" stroke="#c7c7c7" stroke-width="1.8"/><path d="M1133.8 867.5V878.2" stroke="#c7c7c7" stroke-width="3.4"/>
<path d="M1098.4 914.3H1105.7" stroke="#c7c7c7" stroke-width="1.6"/><path d="M1135.2 914.3H1156.5" stroke="#c7c7c7" stroke-width="1.6"/><rect x="1106.6" y="908.7" width="27.8" height="11.3" fill="#a8d8e7" stroke="#c7c7c7" stroke-width="1.8"/><path d="M1108.4 908.7V920" stroke="#c7c7c7" stroke-width="3.4"/>
<path d="M1196.4 919.6H1204.2V929.9L1200.3 933.2L1196.4 929.9Z" fill="#87104e"/>
<path d="M1110.4 961.7H1116.7V971.5L1113.6 974.8L1110.4 971.5Z" fill="#c7c7c7"/>
<path d="M1168.8 980.9H1197" stroke="#87104e" stroke-width="2.2"/><rect x="1198.2" y="976.5" width="26.9" height="8.8" fill="#ffbdc9" stroke="#87104e" stroke-width="2.5"/><path d="M1222.9 976.5V985.3" stroke="#87104e" stroke-width="4.3"/>
<path d="M921.6 1000.5H924" stroke="#c7c7c7" stroke-width="1.6"/><path d="M943.9 1000.5H955.7" stroke="#c7c7c7" stroke-width="1.6"/><rect x="924.9" y="994.9" width="18.2" height="11.3" fill="#a8d8e7" stroke="#c7c7c7" stroke-width="1.8"/><path d="M926.1 994.9V1006.2" stroke="#c7c7c7" stroke-width="3.4"/>
<path d="M1026.4 1012.3H1059" stroke="#87104e" stroke-width="2.2"/><rect x="1060.3" y="1007" width="36.5" height="10.6" fill="#ffbdc9" stroke="#87104e" stroke-width="2.5"/><path d="M1091.1 1007V1017.6" stroke="#87104e" stroke-width="4.3"/>
<path d="M1019.1 1039.3H1024" stroke="#87104e" stroke-width="2.2"/><path d="M1063 1039.3H1093.5" stroke="#87104e" stroke-width="2.2"/><rect x="1025.2" y="1028.3" width="36.5" height="22" fill="#ffbdc9" stroke="#87104e" stroke-width="2.5"/><path d="M1026.4 1028.3V1050.3" stroke="#87104e" stroke-width="4.3"/>
<path d="M1136.2 1066.2H1138" stroke="#0000ff" stroke-width="2.2"/><path d="M1147.9 1066.2H1149.8" stroke="#0000ff" stroke-width="2.2"/><rect x="1139.2" y="1060.9" width="7.5" height="10.6" fill="#a8d8e7" stroke="#0000ff" stroke-width="2.5"/><path d="M1140.5 1060.9V1071.5" stroke="#0000ff" stroke-width="4.3"/>
<path d="M1063.9 1077.7H1092.1" stroke="#c7c7c7" stroke-width="1.6"/><rect x="1093" y="1072.4" width="25.1" height="10.5" fill="#ffbdc9" stroke="#c7c7c7" stroke-width="1.8"/><path d="M1116.7 1072.4V1082.9" stroke="#c7c7c7" stroke-width="3.4"/>
<path d="M1037.8 1104.4H1085" stroke="#87104e" stroke-width="2.2"/><path d="M1156.5 1104.4H1175.2" stroke="#87104e" stroke-width="2.2"/><rect x="1086.2" y="1093.2" width="69" height="22.4" fill="#ffbdc9" stroke="#87104e" stroke-width="2.5"/><path d="M1131.1 1093.2V1115.6" stroke="#87104e" stroke-width="4.3"/>
<path d="M1013.9 1152.3H1016.2" stroke="#c7c7c7" stroke-width="1.6"/><rect x="1005.4" y="1146" width="8.5" height="12.7" fill="#c4cdd0"/>
<path d="M1047.6 1164H1082.8" stroke="#87104e" stroke-width="2.2"/><path d="M1125.7 1164H1133.3" stroke="#87104e" stroke-width="2.2"/><rect x="1084.1" y="1159" width="40.3" height="10" fill="#ffbdc9" stroke="#87104e" stroke-width="2.5"/><path d="M1117.9 1159V1169" stroke="#87104e" stroke-width="4.3"/>
<path d="M1091.6 1184.9H1101" stroke="#0000ff" stroke-width="2.2"/><path d="M1116.4 1184.9H1119.1" stroke="#0000ff" stroke-width="2.2"/><rect x="1102.2" y="1179.3" width="12.9" height="11.1" fill="#a8d8e7" stroke="#0000ff" stroke-width="2.5"/><path d="M1110.1 1179.3V1190.5" stroke="#0000ff" stroke-width="4.3"/>
<path d="M1038 1197H1040.7" stroke="#c7c7c7" stroke-width="1.6"/><path d="M1065.2 1197H1081.6" stroke="#c7c7c7" stroke-width="1.6"/><rect x="1041.6" y="1191.7" width="22.7" height="10.5" fill="#ffbdc9" stroke="#c7c7c7" stroke-width="1.8"/><path d="M1043.8 1191.7V1202.2" stroke="#c7c7c7" stroke-width="3.4"/>
<path d="M1137.8 1217.7H1140" stroke="#0000ff" stroke-width="2.2"/><path d="M1151.5 1217.7H1156.5" stroke="#0000ff" stroke-width="2.2"/><rect x="1141.3" y="1212.4" width="8.9" height="10.7" fill="#a8d8e7" stroke="#0000ff" stroke-width="2.5"/><path d="M1143.8 1212.4V1223.1" stroke="#0000ff" stroke-width="4.3"/>
<path d="M993.9 1229.2H1017.5" stroke="#c7c7c7" stroke-width="1.6"/><path d="M1062.9 1229.2H1084.3" stroke="#c7c7c7" stroke-width="1.6"/><rect x="1018.4" y="1224" width="43.6" height="10.4" fill="#ffbdc9" stroke="#c7c7c7" stroke-width="1.8"/><path d="M1040.2 1224V1234.4" stroke="#c7c7c7" stroke-width="3.4"/>
<path d="M1108.4 1249.6H1110.6" stroke="#c7c7c7" stroke-width="1.6"/><rect x="1110.6" y="1244" width="5.8" height="11.3" fill="#c4cdd0"/>
<path d="M1058.9 1262H1071.2" stroke="#c7c7c7" stroke-width="1.6"/><path d="M1086.1 1262H1088.8" stroke="#c7c7c7" stroke-width="1.6"/><rect x="1072.1" y="1257" width="13.1" height="10" fill="#ffbdc9" stroke="#c7c7c7" stroke-width="1.8"/><path d="M1082.8 1257V1267" stroke="#c7c7c7" stroke-width="3.4"/>
<path d="M1052.2 1282.1H1059.4" stroke="#c7c7c7" stroke-width="1.6"/><path d="M1076.7 1282.1H1084.3" stroke="#c7c7c7" stroke-width="1.6"/><rect x="1060.3" y="1277.5" width="15.4" height="9.1" fill="#a8d8e7" stroke="#c7c7c7" stroke-width="1.8"/><path d="M1068 1277.5V1286.6" stroke="#c7c7c7" stroke-width="3.4"/>
<path d="M1110.3 1294.4H1127" stroke="#87104e" stroke-width="2.2"/><path d="M1165.4 1294.4H1184.5" stroke="#87104e" stroke-width="2.2"/><rect x="1128.2" y="1289.1" width="36" height="10.6" fill="#ffbdc9" stroke="#87104e" stroke-width="2.5"/><path d="M1142.7 1289.1V1299.7" stroke="#87104e" stroke-width="4.3"/>
<path d="M1132 1314.4H1140.9" stroke="#c7c7c7" stroke-width="1.6"/><path d="M1163.2 1314.4H1172.9" stroke="#c7c7c7" stroke-width="1.6"/><rect x="1141.8" y="1310" width="20.5" height="8.7" fill="#a8d8e7" stroke="#c7c7c7" stroke-width="1.8"/><path d="M1151.5 1310V1318.8" stroke="#c7c7c7" stroke-width="3.4"/>
<path d="M1101.2 1325.8H1115.5" stroke="#c7c7c7" stroke-width="1.6"/><path d="M1135.1 1325.8H1137.8" stroke="#c7c7c7" stroke-width="1.6"/><rect x="1116.4" y="1321.5" width="17.8" height="8.7" fill="#ffbdc9" stroke="#c7c7c7" stroke-width="1.8"/><path d="M1128.8 1321.5V1330.2" stroke="#c7c7c7" stroke-width="3.4"/>
</g>
<g fill="none" stroke="#1a1a1a" stroke-width="2.1">
<rect x="207.5" y="44" width="527.5" height="429.1"/>
<path d="M199.5 63.2H207.5M199.5 95.9H207.5M199.5 128.9H207.5M199.5 161.2H207.5M199.5 194.3H207.5M199.5 226.9H207.5M199.5 260H207.5M199.5 293H207.5M199.5 323.5H207.5M199.5 355.8H207.5M199.5 388.8H207.5M199.5 421.5H207.5M199.5 454.5H207.5"/>
<rect x="207.5" y="490" width="527.5" height="396.3"/>
<path d="M199.5 508.7H207.5M199.5 541.7H207.5M199.5 574.4H207.5M199.5 607H207.5M199.5 639.7H207.5M199.5 672.7H207.5M199.5 703.4H207.5M199.5 736H207.5M199.5 769H207.5M199.5 801.9H207.5M199.5 834.5H207.5M199.5 867.7H207.5"/>
<rect x="207.5" y="902.7" width="527.5" height="37.4"/>
<path d="M199.5 921.7H207.5"/>
<rect x="207.5" y="956.8" width="527.5" height="168.8"/>
<path d="M199.5 975.3H207.5M199.5 1008.3H207.5M199.5 1041.1H207.5M199.5 1074H207.5M199.5 1106.9H207.5"/>
<rect x="207.5" y="1142.3" width="527.5" height="201.1"/>
<path d="M199.5 1161H207.5M199.5 1193.8H207.5M199.5 1226.6H207.5M199.5 1259.2H207.5M199.5 1292.1H207.5M199.5 1322.6H207.5"/>
<path d="M230.9 1343.4V1349.4M327.1 1343.4V1349.4M423.4 1343.4V1349.4M518.9 1343.4V1349.4M615.2 1343.4V1349.4M709.5 1343.4V1349.4"/>
</g>
<g fill="none" stroke="#1a1a1a" stroke-width="2.1">
<rect x="775.6" y="47.7" width="525" height="427.3"/>
<path d="M767.6 66.9H775.6M767.6 99.5H775.6M767.6 132.2H775.6M767.6 164.9H775.6M767.6 197H775.6M767.6 230H775.6M767.6 262.7H775.6M767.6 295.4H775.6M767.6 325.7H775.6M767.6 358.3H775.6M767.6 390.6H775.6M767.6 423.7H775.6M767.6 456H775.6"/>
<rect x="775.6" y="490.9" width="525" height="394.1"/>
<path d="M767.6 509.4H775.6M767.6 542.6H775.6M767.6 574.7H775.6M767.6 608H775.6M767.6 640.3H775.6M767.6 672.9H775.6M767.6 703.2H775.6M767.6 735.9H775.6M767.6 768.9H775.6M767.6 801.2H775.6M767.6 834.3H775.6M767.6 866.8H775.6"/>
<rect x="775.6" y="901.7" width="525" height="37"/>
<path d="M767.6 920H775.6"/>
<rect x="775.6" y="955" width="525" height="167.9"/>
<path d="M767.6 973.6H775.6M767.6 1006.2H775.6M767.6 1038.8H775.6M767.6 1071.5H775.6M767.6 1104.3H775.6"/>
<rect x="775.6" y="1139.2" width="525" height="201.3"/>
<path d="M767.6 1158.1H775.6M767.6 1190.8H775.6M767.6 1223.5H775.6M767.6 1255.8H775.6M767.6 1288.4H775.6M767.6 1319.1H775.6"/>
<path d="M798.5 1340.5V1346.5M894.3 1340.5V1346.5M990.2 1340.5V1346.5M1085.5 1340.5V1346.5M1181 1340.5V1346.5M1275 1340.5V1346.5"/>
</g>
<text y="27.2" font-size="33.6" font-weight="bold" fill="#000" clip-path="url(#cl)"><tspan x="209" fill="#c00000" font-style="italic">P.</tspan> <tspan x="250.7">at</tspan> <tspan x="293.4">day</tspan> <tspan x="360.4">182</tspan> <tspan x="426">versus</tspan> <tspan x="545.2" fill="#4472c4" font-style="italic">A.</tspan> <tspan x="589.1">at</tspan> <tspan x="629.3">day</tspan> <tspan x="697.1">103</tspan></text>
<text y="27.2" font-size="33.6" font-weight="bold" fill="#000" clip-path="url(#cr)"><tspan x="784.9" fill="#c00000" font-style="italic">P.</tspan> <tspan x="826.5">at</tspan> <tspan x="866.8">day</tspan> <tspan x="935.4">182</tspan> <tspan x="1003.3">versus</tspan> <tspan x="1121" fill="#4472c4" font-style="italic">A.</tspan> <tspan x="1165.1">at</tspan> <tspan x="1205.2">day</tspan> <tspan x="1272.9">182</tspan></text>
<g font-size="30" fill="#434343" transform="scale(1 1.04)">
<text x="122.5" y="75.48">pstS</text>
<text x="122.5" y="106.83">pstC</text>
<text x="122.5" y="138.27">pstB</text>
<text x="122.5" y="169.71">pstA</text>
<text x="122.5" y="198.65">ppx</text>
<text x="122.5" y="230.38">ppk2</text>
<text x="122.5" y="262.21">ppk</text>
<text x="122.5" y="293.56">pitA</text>
<text x="122.5" y="325.38">phoU</text>
<text x="122.5" y="356.44">phoR</text>
<text x="122.5" y="387.79">phoP</text>
<text x="122.5" y="419.23">pap</text>
<text x="122.5" y="448.94">nadK</text>
<text x="101.5" y="503.46">sucD</text>
<text x="101.5" y="534.81">sucC</text>
<text x="101.5" y="563.94">sucB</text>
<text x="101.5" y="595.19">sucA</text>
<text x="101.5" y="626.63">sdhA</text>
<text x="101.5" y="657.88">prpC</text>
<text x="101.5" y="690.48">korB</text>
<text x="101.5" y="722.12">gltA</text>
<text x="101.5" y="753.08">fumC</text>
<text x="101.5" y="785.19">fumAB</text>
<text x="101.5" y="816.44">frdB</text>
<text x="101.5" y="845.96">frdA</text>
<text x="122.5" y="900.10">aceA</text>
<text x="104" y="952.12">pccB</text>
<text x="104" y="983.37">pccA</text>
<text x="104" y="1014.62">mmdC</text>
<text x="104" y="1044.71">mcm</text>
<text x="104" y="1075.38">epi</text>
<text x="129.5" y="1130.38">mcl</text>
<text x="129.5" y="1159.62">mch</text>
<text x="129.5" y="1191.63">mcd</text>
<text x="129.5" y="1223.27">ecm</text>
<text x="129.5" y="1254.90">croR</text>
<text x="129.5" y="1285.77">ccr</text>
</g>
<g font-size="30" fill="#434343" text-anchor="middle" transform="scale(1 1.04)">
<text x="230.1" y="1331.06">16</text>
<text x="326.3" y="1331.06">18</text>
<text x="422.6" y="1331.06">20</text>
<text x="518.1" y="1331.06">22</text>
<text x="614.4" y="1331.06">24</text>
<text x="708.7" y="1331.06">26</text>
<text x="798.2" y="1327.12">16</text>
<text x="894" y="1327.12">18</text>
<text x="989.9" y="1327.12">20</text>
<text x="1085.2" y="1327.12">22</text>
<text x="1180.7" y="1327.12">24</text>
<text x="1274.7" y="1327.12">26</text>
</g>
<text x="552.3" y="1440.2" font-size="31.3" fill="#000" textLength="429.5" lengthAdjust="spacingAndGlyphs">Normalised expression (log2)</text>
<g font-size="33" font-weight="bold" fill="#000">
<text x="59.5" y="328">P</text>
<text x="12" y="697.5" textLength="69.5" lengthAdjust="spacingAndGlyphs">TCA</text>
<text x="6" y="925.4" textLength="74.5" lengthAdjust="spacingAndGlyphs">Glyo</text>
<text x="0.5" y="1054.3" textLength="80.5" lengthAdjust="spacingAndGlyphs">MMC</text>
<text x="5.5" y="1243" textLength="75.5" lengthAdjust="spacingAndGlyphs">EMC</text>
</g>
<g>
<rect x="1321.3" y="49.7" width="11.2" height="165" fill="none" stroke="#c00000" stroke-width="2.7"/>
<rect x="1315.4" y="491.4" width="13.2" height="68.6" fill="#c00000"/>
<rect x="1317.1" y="764.5" width="11.6" height="112.4" fill="none" stroke="#c00000" stroke-width="2.7"/>
<rect x="1315.4" y="898" width="13.2" height="43.8" fill="#c00000"/>
<rect x="1315.4" y="956.2" width="13.2" height="173.3" fill="#c00000"/>
<rect x="1316.7" y="1172.1" width="11" height="165" fill="none" stroke="#c00000" stroke-width="2.7"/>
</g>
<g fill="none">
<path d="M1405.3 549.4V590.5" stroke="#333" stroke-width="2.4"/><rect x="1385.2" y="558" width="38" height="25.7" fill="#a8d8e7" stroke="#333" stroke-width="2.4"/><path d="M1385.2 570.8H1423.2" stroke="#333" stroke-width="2.4"/>
<path d="M1405.3 600.8V644.1" stroke="#333" stroke-width="2.4"/><rect x="1385.2" y="609.7" width="38" height="28.1" fill="#ffbdc9" stroke="#333" stroke-width="2.4"/><path d="M1385.2 624.2H1423.2" stroke="#333" stroke-width="2.4"/>
<path d="M1405.3 770.1V813.3" stroke="#0000ff" stroke-width="2.4"/><rect x="1385.2" y="779.2" width="38" height="27" fill="#fff" stroke="#0000ff" stroke-width="2.4"/><path d="M1385.2 793.7H1423.2" stroke="#0000ff" stroke-width="2.4"/>
<path d="M1405.3 824.6V864.9" stroke="#c4c4c4" stroke-width="2.4"/><rect x="1385.2" y="834.1" width="38" height="24.1" fill="#fff" stroke="#c4c4c4" stroke-width="2.4"/><path d="M1385.2 845H1423.2" stroke="#c4c4c4" stroke-width="2.4"/>
<path d="M1405.3 878.6V919.4" stroke="#87104e" stroke-width="2.4"/><rect x="1385.2" y="887.9" width="38" height="25" fill="#fff" stroke="#87104e" stroke-width="2.4"/><path d="M1385.2 900H1423.2" stroke="#87104e" stroke-width="2.4"/>
</g>
<g fill="#111">
<text x="1376" y="525.5" font-size="28" textLength="122.5" lengthAdjust="spacingAndGlyphs">Genome</text>
<text x="1376" y="747.5" font-size="30.2" textLength="73.5" lengthAdjust="spacingAndGlyphs">Up in</text>
<g font-size="27">
<text x="1446" y="582.1" font-style="italic" textLength="122" lengthAdjust="spacingAndGlyphs">A. regalis</text>
<text x="1446" y="632.3" font-style="italic" textLength="202" lengthAdjust="spacingAndGlyphs">P. aalborgensis</text>
<text x="1446" y="802.4" font-style="italic" textLength="122" lengthAdjust="spacingAndGlyphs">A. regalis</text>
<text x="1446" y="859.5" textLength="62" lengthAdjust="spacingAndGlyphs">none</text>
<text x="1446" y="909" font-style="italic" textLength="202" lengthAdjust="spacingAndGlyphs">P. aalborgensis</text>
</g></g>
</svg>
</body></html>
